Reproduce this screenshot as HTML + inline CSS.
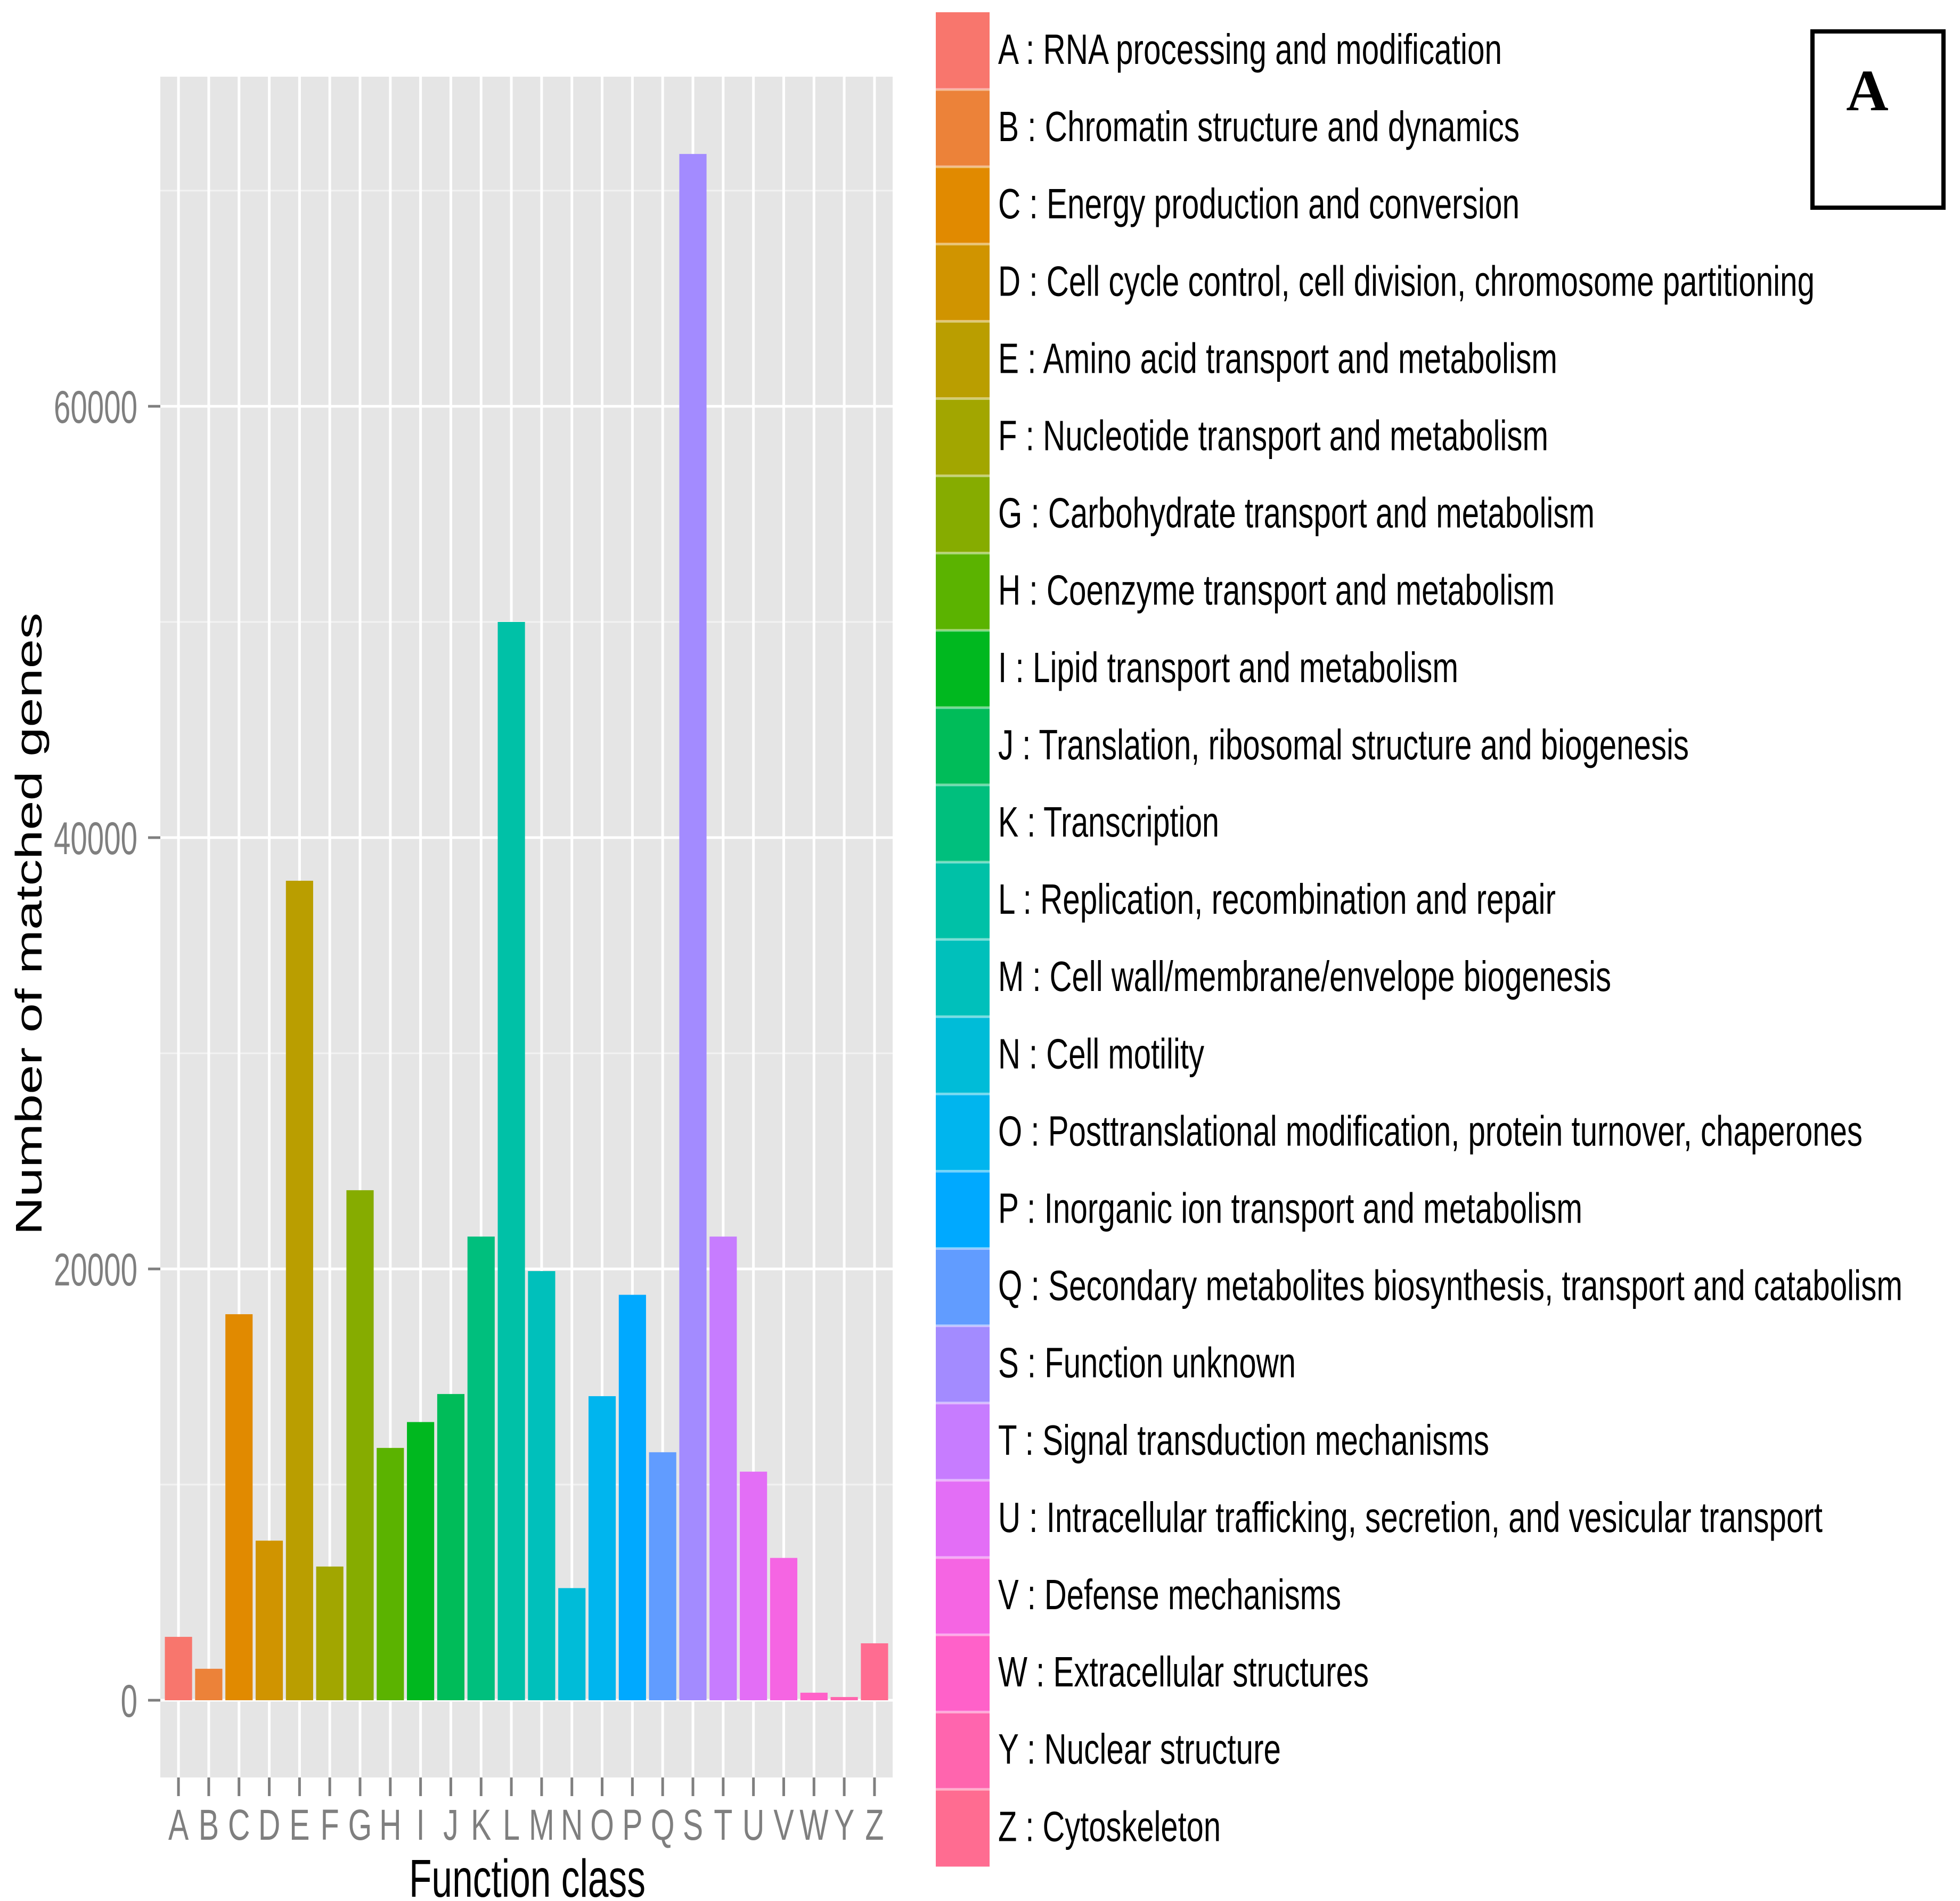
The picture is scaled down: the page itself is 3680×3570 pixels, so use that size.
<!DOCTYPE html>
<html><head><meta charset="utf-8"><style>html,body{margin:0;padding:0;background:#fff}svg{display:block}</style></head>
<body>
<svg id="chart" xmlns="http://www.w3.org/2000/svg" width="3680" height="3570" viewBox="0 0 3680 3570" font-family="Liberation Sans, sans-serif">
<rect x="301" y="144" width="1375" height="3194" fill="#E5E5E5"/>
<g id="grid"></g>
<g id="bars"></g>
<g id="yaxis"></g>
<g id="xaxis"></g>
<text transform="translate(78,1735) rotate(-90)" text-anchor="middle" font-size="70" textLength="1169" lengthAdjust="spacingAndGlyphs" fill="#000">Number of matched genes</text>
<text x="768" y="3562" font-size="100" textLength="444" lengthAdjust="spacingAndGlyphs" fill="#000">Function class</text>
<g id="legend"></g>
<rect x="3403" y="59" width="246" height="331" fill="none" stroke="#000" stroke-width="8"/>
<text x="3506" y="207" text-anchor="middle" font-family="Liberation Serif, serif" font-weight="bold" font-size="110" fill="#000">A</text>
</svg>
<script>
const categories = ["A","B","C","D","E","F","G","H","I","J","K","L","M","N","O","P","Q","S","T","U","V","W","Y","Z"];
const counts = [2940,1460,17900,7400,38000,6200,23650,11700,12900,14200,21500,50000,19900,5200,14100,18800,11500,71700,21500,10600,6600,350,150,2640];
const descriptions = ["RNA processing and modification","Chromatin structure and dynamics","Energy production and conversion","Cell cycle control, cell division, chromosome partitioning","Amino acid transport and metabolism","Nucleotide transport and metabolism","Carbohydrate transport and metabolism","Coenzyme transport and metabolism","Lipid transport and metabolism","Translation, ribosomal structure and biogenesis","Transcription","Replication, recombination and repair","Cell wall/membrane/envelope biogenesis","Cell motility","Posttranslational modification, protein turnover, chaperones","Inorganic ion transport and metabolism","Secondary metabolites biosynthesis, transport and catabolism","Function unknown","Signal transduction mechanisms","Intracellular trafficking, secretion, and vesicular transport","Defense mechanisms","Extracellular structures","Nuclear structure","Cytoskeleton"];
const colors = ["#F8766D","#EC8239","#E18A00","#D09400","#BA9E00","#A2A600","#86AC00","#5BB300","#00B81F","#00BC59","#00BF7D","#00C1A7","#00C0BB","#00BCD8","#00B5EE","#00A9FF","#619CFF","#A38BFF","#C77CFF","#E36EF6","#F565E3","#FF61C9","#FF65AE","#FF6C91"];
const yTicks = [0,20000,40000,60000];
const yMinor = [10000,30000,50000,70000];
const legendTextWidths = [946,979,979,1533,1050,1033,1120,1045,864,1297,415,1047,1151,387,1623,1097,1698,559,922,1548,644,696,531,418];

const NS = "http://www.w3.org/2000/svg";
const panelL = 301, panelR = 1676, panelT = 144, panelB = 3338;
const y0 = 3193, pxPerUnit = 405/10000;
const step = (panelR - panelL) / (categories.length - 1 + 1.2);
function xScale(i){ return panelL + (0.6 + i) * step; }
function yScale(v){ return y0 - v * pxPerUnit; }
function mk(tag, attrs, parent){ const e=document.createElementNS(NS,tag); for(const k in attrs) e.setAttribute(k,attrs[k]); parent.appendChild(e); return e; }

const grid = document.getElementById('grid');
yMinor.forEach(v=>{
  const l = mk('line',{x1:panelL,x2:panelR,y1:yScale(v),y2:yScale(v),stroke:'#F2F2F2','stroke-width':3},grid);
  
  
});
yTicks.forEach(v=>{
  const l = mk('line',{x1:panelL,x2:panelR,y1:yScale(v),y2:yScale(v),stroke:'#FFFFFF','stroke-width':5},grid);
  
  
});
categories.forEach((c,i)=>{
  const l = mk('line',{x1:xScale(i),x2:xScale(i),y1:panelT,y2:panelB,stroke:'#FFFFFF','stroke-width':5},grid);
  
  
});

const bars = document.getElementById('bars');
const bw = step*0.9;
categories.forEach((c,i)=>{
  const top = yScale(counts[i]);
  const r = mk('rect',{x:xScale(i)-bw/2,y:top,width:bw,height:y0-top,fill:colors[i]},bars);
  
  
});

const yaxis = document.getElementById('yaxis');
yTicks.forEach(v=>{
  const t = mk('line',{x1:278,x2:301,y1:yScale(v),y2:yScale(v),stroke:'#7F7F7F','stroke-width':5},yaxis);
  
  
  const s = String(v);
  const tx = mk('text',{x:258,y:yScale(v)+31,'text-anchor':'end','font-size':86,fill:'#7F7F7F',textLength:31.4*s.length,lengthAdjust:'spacingAndGlyphs'},yaxis);
  tx.textContent = s;
  
  
});

const xaxis = document.getElementById('xaxis');
categories.forEach((c,i)=>{
  const t = mk('line',{x1:xScale(i),x2:xScale(i),y1:panelB,y2:3373,stroke:'#7F7F7F','stroke-width':5},xaxis);
  
  
  const tx = mk('text',{transform:'translate('+xScale(i)+',3455) scale(0.7,1)','text-anchor':'middle','font-size':82,fill:'#7F7F7F'},xaxis);
  tx.textContent = c;
  
  
});

const legend = document.getElementById('legend');
const lTop = 23, lPitch = 145.1;
categories.forEach((c,i)=>{
  const top = lTop + i*lPitch;
  const g = mk('g',{},legend);
  
  
  const k = mk('rect',{x:1757,y:top,width:101,height:lPitch,fill:colors[i]},g);
  
  
  if(i>0){
    const s = mk('rect',{x:1757,y:top-2.5,width:101,height:5,fill:'#FFFFFF','fill-opacity':0.45},g);
    
    
  }
  const tx = mk('text',{x:1874,y:top+97,'font-size':80,fill:'#000',textLength:legendTextWidths[i],lengthAdjust:'spacingAndGlyphs'},g);
  tx.textContent = c+' : '+descriptions[i];
  
  
});
</script>
</body></html>
